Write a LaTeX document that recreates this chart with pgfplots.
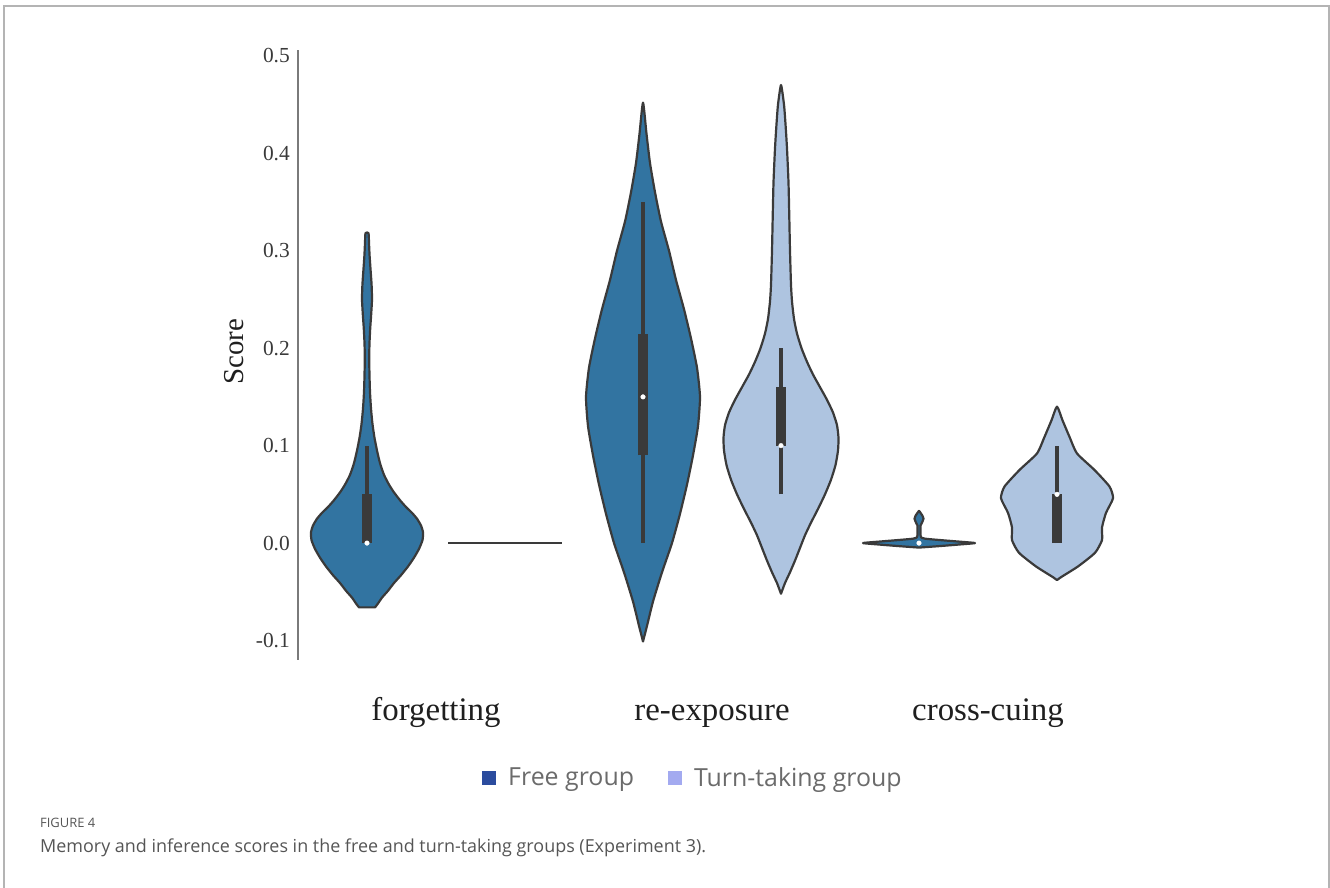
\documentclass[border=0pt]{standalone}
\usepackage{pgfplots}
\usepackage{pgfplotstable}
\pgfplotsset{compat=1.18}
\usepackage{fontspec}
\setmainfont{Liberation Serif}
\newfontfamily\osans{Open Sans}
\definecolor{freec}{HTML}{3274A1}
\definecolor{turnc}{HTML}{AEC4E0}
\definecolor{edgec}{HTML}{3A3A3A}
\definecolor{boxc}{HTML}{3A3A3A}
\definecolor{legfree}{HTML}{2B4C9E}
\definecolor{legturn}{HTML}{A3AAF0}
\definecolor{framec}{HTML}{B4B4B4}
\definecolor{axisc}{HTML}{7A7A7A}
\definecolor{tickc}{HTML}{3A3A3A}
\definecolor{legtext}{HTML}{6B6B6B}
\definecolor{captc}{HTML}{555555}

% violin outlines: dx = half-width offset in pixels (276 px per category), v = score
\pgfplotstableread{
dx v
8 -0.066
11 -0.062
15 -0.056
21 -0.049
27 -0.041
34 -0.033
41 -0.024
47 -0.015
52 -0.006
55.5 0.003
56 0.011
54 0.018
50 0.025
45 0.031
39 0.037
33 0.044
27 0.052
22 0.060
17 0.070
13 0.082
10 0.095
7.5 0.108
5.5 0.122
4 0.138
3 0.155
2.5 0.172
2.2 0.190
2.5 0.205
3.2 0.220
4.2 0.235
5 0.250
4.6 0.265
3.6 0.280
2.6 0.295
2 0.308
1.5 0.318
-1.5 0.318
-2 0.308
-2.6 0.295
-3.6 0.280
-4.6 0.265
-5 0.250
-4.2 0.235
-3.2 0.220
-2.5 0.205
-2.2 0.190
-2.5 0.172
-3 0.155
-4 0.138
-5.5 0.122
-7.5 0.108
-10 0.095
-13 0.082
-17 0.070
-22 0.060
-27 0.052
-33 0.044
-39 0.037
-45 0.031
-50 0.025
-54 0.018
-56 0.011
-55.5 0.003
-52 -0.006
-47 -0.015
-41 -0.024
-34 -0.033
-27 -0.041
-21 -0.049
-15 -0.056
-11 -0.062
-8 -0.066
}\vForgetFree

\pgfplotstableread{
dx v
0 -0.101
4 -0.085
10 -0.060
19 -0.030
29 0.000
37 0.030
44 0.060
50 0.090
55 0.120
57 0.150
54 0.180
48 0.210
41 0.240
33 0.270
26 0.300
18 0.330
12 0.360
7 0.390
3.5 0.420
0 0.452
-3.5 0.420
-7 0.390
-12 0.360
-18 0.330
-26 0.300
-33 0.270
-41 0.240
-48 0.210
-54 0.180
-57 0.150
-55 0.120
-50 0.090
-44 0.060
-37 0.030
-29 0.000
-19 -0.030
-10 -0.060
-4 -0.085
}\vReFree

\pgfplotstableread{
dx v
0 -0.052
4 -0.041
9 -0.030
14 -0.018
19 -0.005
24 0.008
30 0.021
37 0.035
44 0.050
50 0.065
54.5 0.080
57 0.095
57.5 0.108
56 0.121
52 0.134
46 0.147
39 0.160
32 0.173
26 0.186
20.5 0.200
16 0.215
13 0.230
11 0.248
10 0.265
9 0.300
8.3 0.334
7.5 0.370
6 0.405
4.5 0.430
3 0.450
0 0.470
-3 0.450
-4.5 0.430
-6 0.405
-7.5 0.370
-8.3 0.334
-9 0.300
-10 0.265
-11 0.248
-13 0.230
-16 0.215
-20.5 0.200
-26 0.186
-32 0.173
-39 0.160
-46 0.147
-52 0.134
-56 0.121
-57.5 0.108
-57 0.095
-54.5 0.080
-50 0.065
-44 0.050
-37 0.035
-30 0.021
-24 0.008
-19 -0.005
-14 -0.018
-9 -0.030
-4 -0.041
}\vReTurn

\pgfplotstableread{
dx v
2 -0.0045
22 -0.003
40 -0.0015
56 0.000
40 0.0015
22 0.003
6 0.0045
2 0.006
1.5 0.010
1.5 0.018
3 0.021
4.5 0.025
3.5 0.028
1.5 0.031
0 0.033
-1.5 0.031
-3.5 0.028
-4.5 0.025
-3 0.021
-1.5 0.018
-1.5 0.010
-2 0.006
-6 0.0045
-22 0.003
-40 0.0015
-56 0.000
-40 -0.0015
-22 -0.003
-2 -0.0045
}\vCrossFree

\pgfplotstableread{
dx v
0 -0.038
4 -0.035
21 -0.024
38 -0.010
45 0.003
45 0.016
49 0.031
56 0.046
52.5 0.058
37.5 0.075
20 0.092
12.5 0.109
5.5 0.126
0 0.140
-5.5 0.126
-12.5 0.109
-20 0.092
-37.5 0.075
-52.5 0.058
-56 0.046
-49 0.031
-45 0.016
-45 0.003
-38 -0.010
-21 -0.024
-4 -0.035
}\vCrossTurn

\begin{document}
\begin{tikzpicture}
\path[use as bounding box] (0bp,0bp) rectangle (1330bp,888bp);
\draw[framec, line width=2bp] (4bp,0bp) -- (4bp,881.5bp) -- (1328.5bp,881.5bp) -- (1328.5bp,0bp);

\begin{axis}[
  at={(298bp,228bp)}, anchor=south west,
  scale only axis, width=828bp, height=610bp,
  xmin=-0.5, xmax=2.5, ymin=-0.12, ymax=0.506,
  clip=false,
  axis x line*=bottom, axis y line*=left,
  x axis line style={draw=none},
  y axis line style={draw=axisc, line width=2bp},
  major tick length=0pt,
  tick style={draw=none},
  xtick={0,1,2}, xticklabels={forgetting,re-exposure,cross-cuing},
  ytick={-0.1,0,0.1,0.2,0.3,0.4,0.5},
  yticklabels={-0.1,0.0,0.1,0.2,0.3,0.4,0.5},
  yticklabel style={font=\fontsize{21.5}{24}\selectfont, text=tickc, anchor=east, inner sep=0pt, xshift=-8bp},
  xticklabel style={font=\fontsize{33}{38}\selectfont, text=black!88, anchor=base, inner sep=0pt, yshift=-60bp},
  ylabel={Score},
  every axis y label/.style={at={(axis description cs:-0.0664,0.505)}, rotate=90, anchor=base, font=\fontsize{29}{32}\selectfont, text=black!88},
  legend image code/.code={\path[#1] (0bp,-7bp) rectangle (14bp,7bp);},
  legend style={at={(axis description cs:0.477,-0.193)}, anchor=center, draw=none, fill=none,
    font=\osans\fontsize{25}{28}\selectfont, text=legtext, inner sep=0pt,
    /tikz/every odd column/.append style={column sep=10bp},
    /tikz/every even column/.append style={column sep=32bp}},
  legend columns=2,
  legend cell align=left,
  violin/.style={draw=edgec, line width=2.2bp, line join=round, smooth, tension=0.35, forget plot},
]
\addlegendimage{fill=legfree, draw=none}
\addlegendentry{Free group}
\addlegendimage{fill=legturn, draw=none}
\addlegendentry{Turn-taking group}

% violins
\addplot[violin, fill=freec] table[x expr=-0.25+\thisrow{dx}/276, y=v] {\vForgetFree} -- cycle;
\addplot[draw=edgec, line width=2.6bp, forget plot] coordinates {(0.0435,0) (0.4565,0)};
\addplot[violin, fill=freec] table[x expr=0.75+\thisrow{dx}/276, y=v] {\vReFree} -- cycle;
\addplot[violin, fill=turnc] table[x expr=1.25+\thisrow{dx}/276, y=v] {\vReTurn} -- cycle;
\addplot[violin, fill=freec] table[x expr=1.75+\thisrow{dx}/276, y=v] {\vCrossFree} -- cycle;
\addplot[violin, fill=turnc] table[x expr=2.25+\thisrow{dx}/276, y=v] {\vCrossTurn} -- cycle;

% whiskers
\addplot[boxc, line width=3.5bp, forget plot] coordinates {(-0.25,0) (-0.25,0.10)};
\addplot[boxc, line width=3.5bp, forget plot] coordinates {(0.75,0) (0.75,0.35)};
\addplot[boxc, line width=3.5bp, forget plot] coordinates {(1.25,0.05) (1.25,0.20)};
\addplot[boxc, line width=3.5bp, forget plot] coordinates {(2.25,0) (2.25,0.10)};
% boxes
\addplot[boxc, line width=9.5bp, forget plot] coordinates {(-0.25,0) (-0.25,0.05)};
\addplot[boxc, line width=9.5bp, forget plot] coordinates {(0.75,0.09) (0.75,0.215)};
\addplot[boxc, line width=9.5bp, forget plot] coordinates {(1.25,0.10) (1.25,0.16)};
\addplot[boxc, line width=9.5bp, forget plot] coordinates {(2.25,0) (2.25,0.05)};
% medians
\addplot[only marks, mark=*, mark size=2.3bp, mark options={fill=white, draw=white}, forget plot]
  coordinates {(-0.25,0) (0.75,0.15) (1.25,0.10) (1.75,0) (2.25,0.05)};
\end{axis}

\node[anchor=base west, inner sep=0pt, font=\osans\fontsize{13}{15}\selectfont, text=captc] at (40bp,60bp) {FIGURE 4};
\node[anchor=base west, inner sep=0pt, font=\osans\fontsize{18}{21}\selectfont, text=captc] at (40bp,36bp) {Memory and inference scores in the free and turn-taking groups (Experiment 3).};
\end{tikzpicture}
\end{document}
